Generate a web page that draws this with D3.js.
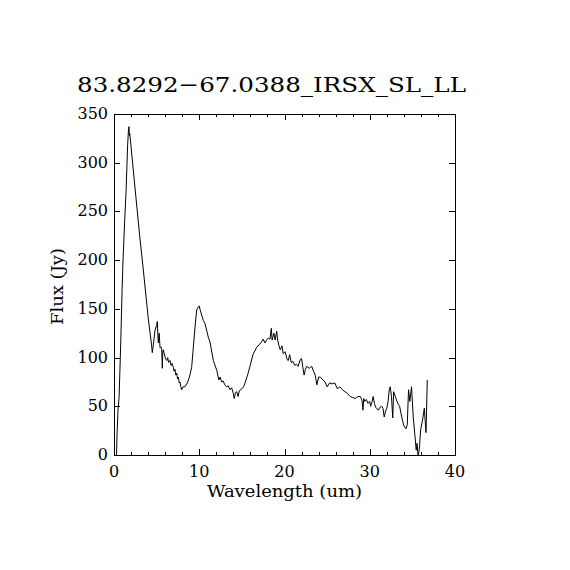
<!DOCTYPE html>
<html>
<head>
<meta charset="utf-8">
<script src="https://cdn.jsdelivr.net/npm/d3@7"></script>
<style>
  body { margin: 0; background: #fff; }
  svg text { font-family: 'DejaVu Serif', 'Liberation Serif', serif; fill: #000; }
</style>
</head>
<body>
<svg id="canvas"></svg>
<script>
let titleText = '83.8292\u221267.0388_IRSX_SL_LL'
let xLabel = 'Wavelength (um)'
let yLabel = 'Flux (Jy)'

let xTicks = [0, 10, 20, 30, 40]
let xMinorTicks = [2, 4, 6, 8, 12, 14, 16, 18, 22, 24, 26, 28, 32, 34, 36, 38]
let yTicks = [0, 50, 100, 150, 200, 250, 300, 350]

let wavelength = [
  0.30, 0.35, 0.47, 0.60, 0.79, 0.95, 1.06, 1.25, 1.41, 1.60, 1.70, 1.76, 1.80, 1.85, 2.40, 3.00,
  3.44, 4.02, 4.42, 4.49, 4.60, 4.81, 5.00, 5.08, 5.15, 5.20, 5.30, 5.40, 5.51,
  5.60, 5.67, 5.72, 5.78, 5.90, 6.00, 6.10, 6.18, 6.30, 6.40, 6.57, 6.70, 6.80, 6.96, 7.05, 7.15,
  7.25, 7.36, 7.45, 7.55, 7.65, 7.74, 7.85, 7.94, 8.10, 8.33, 8.60, 8.85, 9.11, 9.30, 9.50, 9.70,
  9.90, 10.0, 10.1, 10.48, 10.67, 11.06, 11.26, 11.65, 12.05, 12.30, 12.45, 12.63, 12.80, 13.00,
  13.20, 13.40, 13.60, 13.80, 14.00, 14.10, 14.25, 14.40, 14.55, 14.70, 15.00, 15.20, 15.37, 15.70,
  15.95, 16.30, 16.70, 17.00, 17.30, 17.50, 17.70, 17.90, 18.10, 18.30, 18.45, 18.55, 18.75, 18.90,
  19.08, 19.20, 19.35, 19.50, 19.70, 19.85, 20.06, 20.20, 20.30, 20.45, 20.60, 20.80, 21.00, 21.20,
  21.40, 21.60, 21.85, 22.00, 22.15, 22.30, 22.45, 22.60, 22.90, 23.20, 23.40, 23.60, 23.80, 24.00,
  24.20, 24.40, 24.75, 25.00, 25.30, 25.60, 25.90, 26.20, 26.50, 26.80, 27.10, 27.40, 27.70, 28.00,
  28.30, 28.60, 28.90, 29.10, 29.20, 29.30, 29.40, 29.60, 29.80, 30.00, 30.10, 30.25, 30.40, 30.55,
  30.70, 31.00, 31.20, 31.40, 31.55, 31.70, 31.85, 32.00, 32.15, 32.30, 32.40, 32.55, 32.70, 32.80,
  33.00, 33.20, 33.35, 33.50, 33.75, 34.00, 34.25, 34.40, 34.55, 34.70, 34.90, 35.10, 35.30, 35.45,
  35.55, 35.65, 35.75, 35.85, 35.97, 36.20, 36.40, 36.60, 36.75
]

let flux = [
  0, 20, 46, 60, 115, 170, 200, 240, 269, 318, 334, 337, 328, 330, 280, 226,
  190, 140, 112, 105, 112, 128, 133, 137, 122, 115, 125, 110, 111,
  108, 89, 106, 108, 104, 100, 98, 97, 100, 95, 97, 92, 94, 90, 86, 88,
  82, 84, 78, 80, 74, 75, 70, 67, 70, 70, 74, 80, 90, 110, 131, 149,
  152, 153, 149, 138, 135, 121, 116, 97, 87, 77, 80, 75, 76, 72,
  70, 71, 67, 69, 63, 58, 64, 65, 60, 66, 68, 70, 74, 83,
  91, 103, 110, 113, 116, 119, 115, 118, 120, 119, 130, 118, 125, 118,
  127, 118, 112, 108, 112, 104, 106, 102, 98, 97, 103, 95, 96, 92,
  93, 91, 98, 99, 90, 82, 88, 91, 89, 91, 86, 82, 72, 80,
  80, 78, 75, 70, 74, 73, 74, 68, 70, 67, 65, 63, 60, 59,
  58, 60, 60, 56, 46, 58, 55, 57, 53, 55, 50, 54, 60, 53,
  49, 46, 49, 50, 48, 39, 45, 48, 55, 68, 70, 60, 38, 65,
  60, 55, 52, 50, 39, 30, 27, 31, 67, 55, 70, 39, 20, 5,
  12, 0, 2, 10, 26, 36, 48, 23, 77
]

let width = 570
let height = 570
let plotLeft = 114
let plotRight = 455
let plotTop = 114
let plotBottom = 455

let svg = d3.select('#canvas')
svg.attr('width', width).attr('height', height)

svg.append('rect')
    .attr('width', width)
    .attr('height', height)
    .attr('fill', '#fff')

let xScale = d3.scaleLinear().domain([0, 40]).range([plotLeft, plotRight])
let yScale = d3.scaleLinear().domain([0, 350]).range([plotBottom, plotTop])

let data = wavelength.map((w, i) => {
    return { x: w, y: flux[i] }
})

// spectrum
let line = d3.line()
    .x((d) => xScale(d.x))
    .y((d) => yScale(d.y))

svg.append('path')
    .datum(data)
    .attr('d', line)
    .attr('fill', 'none')
    .attr('stroke', '#000')
    .attr('stroke-width', 1)

// axes, ticks pointing into the frame
let xBottom = d3.axisTop(xScale).tickValues(xTicks).tickSize(6).tickFormat('')
let xBottomMinor = d3.axisTop(xScale).tickValues(xMinorTicks).tickSize(3).tickFormat('')
let xTop = d3.axisBottom(xScale).tickValues(xTicks).tickSize(6).tickFormat('')
let xTopMinor = d3.axisBottom(xScale).tickValues(xMinorTicks).tickSize(3).tickFormat('')
let yLeft = d3.axisRight(yScale).tickValues(yTicks).tickSize(6).tickFormat('')
let yRight = d3.axisLeft(yScale).tickValues(yTicks).tickSize(6).tickFormat('')

let addAxis = (axis, tx, ty) => {
    let g = svg.append('g')
        .attr('transform', 'translate(' + tx + ',' + ty + ')')
        .call(axis)
    g.selectAll('path, line')
        .attr('stroke', '#000')
        .attr('stroke-width', 1)
        .attr('shape-rendering', 'crispEdges')
    g.select('.domain').remove()
}

addAxis(xBottom, 0, plotBottom)
addAxis(xBottomMinor, 0, plotBottom)
addAxis(xTop, 0, plotTop)
addAxis(xTopMinor, 0, plotTop)
addAxis(yLeft, plotLeft, 0)
addAxis(yRight, plotRight, 0)

svg.append('rect')
    .attr('x', plotLeft)
    .attr('y', plotTop)
    .attr('width', plotRight - plotLeft)
    .attr('height', plotBottom - plotTop)
    .attr('fill', 'none')
    .attr('stroke', '#000')
    .attr('stroke-width', 1)
    .attr('shape-rendering', 'crispEdges')

// tick labels
svg.selectAll('.xlab')
    .data(xTicks)
    .enter()
    .append('text')
    .attr('class', 'xlab')
    .attr('x', (d) => xScale(d))
    .attr('y', 477)
    .attr('text-anchor', 'middle')
    .attr('font-size', 16)
    .text((d) => d)

svg.selectAll('.ylab')
    .data(yTicks)
    .enter()
    .append('text')
    .attr('class', 'ylab')
    .attr('x', 108)
    .attr('y', (d) => yScale(d) + 5)
    .attr('text-anchor', 'end')
    .attr('font-size', 16)
    .text((d) => d)

// titles
svg.append('text')
    .attr('x', 271.5)
    .attr('y', 92)
    .attr('text-anchor', 'middle')
    .attr('font-size', 21)
    .attr('textLength', 389)
    .attr('lengthAdjust', 'spacingAndGlyphs')
    .text(titleText)

svg.append('text')
    .attr('x', 284.5)
    .attr('y', 497)
    .attr('text-anchor', 'middle')
    .attr('font-size', 16)
    .attr('textLength', 155)
    .attr('lengthAdjust', 'spacingAndGlyphs')
    .text(xLabel)

svg.append('text')
    .attr('transform', 'translate(63,286.5) rotate(-90)')
    .attr('text-anchor', 'middle')
    .attr('font-size', 16)
    .attr('textLength', 77)
    .attr('lengthAdjust', 'spacingAndGlyphs')
    .text(yLabel)
</script>
</body>
</html>
